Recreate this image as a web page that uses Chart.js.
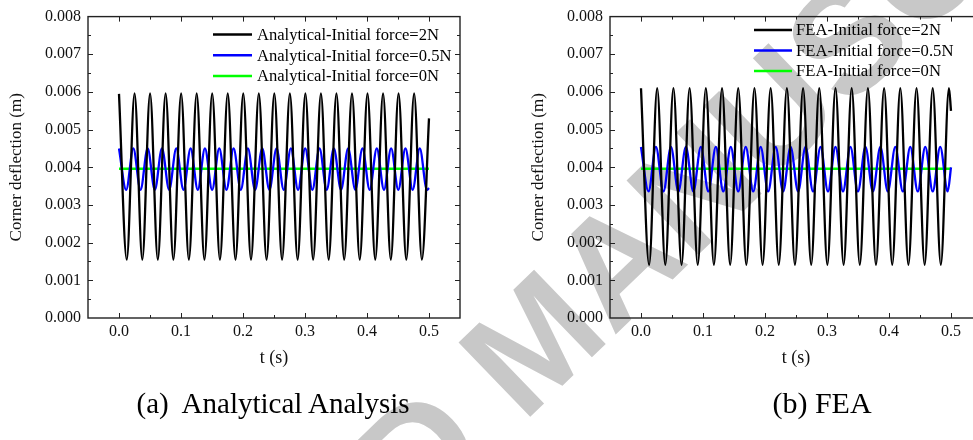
<!DOCTYPE html>
<html>
<head>
<meta charset="utf-8">
<script src="https://cdn.jsdelivr.net/npm/chart.js@4.4.0/dist/chart.umd.min.js"></script>
<style>
  html, body { margin: 0; padding: 0; background: #fff; }
  body { width: 973px; height: 440px; overflow: hidden; position: relative; }
  .box { position: absolute; top: 0; width: 480px; height: 400px; z-index: 1; }
  #wm { position: absolute; left: 530px; top: 342px; width: 0; height: 0; transform: rotate(-44deg); transform-origin: 0 0; z-index: 0; }
  #wm span { position: absolute; left: -6.19em; top: -0.49em; white-space: nowrap; font: bold 150px "Liberation Sans", Arial, sans-serif; line-height: 1; color: #c8c8c8; }
  .cap { position: absolute; top: 388px; font: 29px "Liberation Serif", "Times New Roman", serif; line-height: 30px; color: #000; text-align: center; white-space: pre; z-index: 2; }
</style>
</head>
<body>
<div id="wm"><span>ACCEPTED MANUSCRIPT</span></div>
<div class="box" style="left:0px"><canvas id="chartA"></canvas></div>
<div class="box" style="left:522px"><canvas id="chartB"></canvas></div>
<div class="cap" style="left:123px;width:300px">(a)  Analytical Analysis</div>
<div class="cap" style="left:722px;width:200px;font-size:30px">(b) FEA</div>
<script>
// ticks
const xTicks = [0, 0.1, 0.2, 0.3, 0.4, 0.5];
const yTicks = [0, 0.001, 0.002, 0.003, 0.004, 0.005, 0.006, 0.007, 0.008];

// Analytical, initial force 2N (peaks and troughs)
const aT2 = [0, 0.0125, 0.0251, 0.0376, 0.0501, 0.0626, 0.0752, 0.0877, 0.1002, 0.1127,
  0.1253, 0.1378, 0.1503, 0.1628, 0.1754, 0.1879, 0.2004, 0.2129, 0.2255, 0.2380,
  0.2505, 0.2630, 0.2756, 0.2881, 0.3006, 0.3131, 0.3257, 0.3382, 0.3507, 0.3632,
  0.3758, 0.3883, 0.4008, 0.4133, 0.4259, 0.4384, 0.4509, 0.4634, 0.4760, 0.4885, 0.5];
const aY2 = [0.00595, 0.00155, 0.00596, 0.00155, 0.00596, 0.00155, 0.00596, 0.00155, 0.00596, 0.00155,
  0.00596, 0.00155, 0.00596, 0.00155, 0.00596, 0.00155, 0.00596, 0.00155, 0.00596, 0.00155,
  0.00596, 0.00155, 0.00596, 0.00155, 0.00596, 0.00155, 0.00596, 0.00155, 0.00596, 0.00155,
  0.00596, 0.00155, 0.00596, 0.00155, 0.00596, 0.00155, 0.00596, 0.00155, 0.00596, 0.00155, 0.0053];

// Analytical, initial force 0.5N
const aT05 = [0, 0.0116, 0.0231, 0.0347, 0.0462, 0.0578, 0.0693, 0.0809, 0.0924, 0.1040,
  0.1155, 0.1271, 0.1386, 0.1502, 0.1617, 0.1733, 0.1848, 0.1964, 0.2079, 0.2195,
  0.2310, 0.2426, 0.2541, 0.2657, 0.2772, 0.2888, 0.3003, 0.3119, 0.3234, 0.3350,
  0.3465, 0.3581, 0.3696, 0.3812, 0.3927, 0.4043, 0.4158, 0.4274, 0.4389, 0.4505,
  0.4620, 0.4736, 0.4851, 0.4967, 0.5];
const aY05 = [0.00450, 0.00340, 0.00450, 0.00340, 0.00450, 0.00340, 0.00450, 0.00340, 0.00450, 0.00340,
  0.00450, 0.00340, 0.00450, 0.00340, 0.00450, 0.00340, 0.00450, 0.00340, 0.00450, 0.00340,
  0.00450, 0.00340, 0.00450, 0.00340, 0.00450, 0.00340, 0.00450, 0.00340, 0.00450, 0.00340,
  0.00450, 0.00340, 0.00450, 0.00340, 0.00450, 0.00340, 0.00450, 0.00340, 0.00450, 0.00340,
  0.00450, 0.00340, 0.00450, 0.00340, 0.00345];

// Analytical, initial force 0N
const aT0 = [0, 0.5];
const aY0 = [0.00396, 0.00396];

// FEA, initial force 2N
const fT2 = [0, 0.0131, 0.0261, 0.0392, 0.0523, 0.0654, 0.0784, 0.0915, 0.1046, 0.1176,
  0.1307, 0.1438, 0.1568, 0.1699, 0.1830, 0.1961, 0.2091, 0.2222, 0.2353, 0.2483,
  0.2614, 0.2745, 0.2875, 0.3006, 0.3137, 0.3268, 0.3398, 0.3529, 0.3660, 0.3790,
  0.3921, 0.4052, 0.4182, 0.4313, 0.4444, 0.4575, 0.4705, 0.4836, 0.4967, 0.5];
const fY2 = [0.00610, 0.00141, 0.00610, 0.00141, 0.00610, 0.00141, 0.00610, 0.00141, 0.00610, 0.00141,
  0.00610, 0.00141, 0.00610, 0.00141, 0.00610, 0.00141, 0.00610, 0.00141, 0.00610, 0.00141,
  0.00610, 0.00141, 0.00610, 0.00141, 0.00610, 0.00141, 0.00610, 0.00141, 0.00610, 0.00141,
  0.00610, 0.00141, 0.00610, 0.00141, 0.00610, 0.00141, 0.00610, 0.00141, 0.00610, 0.0055];

// FEA, initial force 0.5N
const fT05 = [0, 0.0121, 0.0241, 0.0362, 0.0483, 0.0603, 0.0724, 0.0844, 0.0965, 0.1086,
  0.1207, 0.1327, 0.1448, 0.1568, 0.1689, 0.1810, 0.1930, 0.2051, 0.2172, 0.2292,
  0.2413, 0.2534, 0.2654, 0.2775, 0.2896, 0.3016, 0.3137, 0.3258, 0.3378, 0.3499,
  0.3620, 0.3740, 0.3861, 0.3981, 0.4102, 0.4223, 0.4343, 0.4464, 0.4585, 0.4705,
  0.4826, 0.4947, 0.5];
const fY05 = [0.00454, 0.00336, 0.00454, 0.00336, 0.00454, 0.00336, 0.00454, 0.00336, 0.00454, 0.00336,
  0.00454, 0.00336, 0.00454, 0.00336, 0.00454, 0.00336, 0.00454, 0.00336, 0.00454, 0.00336,
  0.00454, 0.00336, 0.00454, 0.00336, 0.00454, 0.00336, 0.00454, 0.00336, 0.00454, 0.00336,
  0.00454, 0.00336, 0.00454, 0.00336, 0.00454, 0.00336, 0.00454, 0.00336, 0.00454, 0.00336,
  0.00454, 0.00336, 0.0040];

// FEA, initial force 0N
const fT0 = [0, 0.5];
const fY0 = [0.00396, 0.00396];

const COLORS = ['#000000', '#0000ff', '#00ff00'];
const SERIF = '"Liberation Serif", "Times New Roman", serif';

function pts(ts, ys) {
  return ts.map((t, i) => ({ x: t, y: ys[i] }));
}

function ds(label, ts, ys, color, width) {
  return {
    label: label,
    data: pts(ts, ys),
    borderColor: color,
    backgroundColor: color,
    borderWidth: width,
    pointRadius: 0,
    cubicInterpolationMode: 'monotone',
    fill: false
  };
}

// frame with inward ticks, like Origin, plus the legend inside the plot
const originFrame = {
  id: 'originFrame',
  afterDraw(chart, args, opts) {
    const ctx = chart.ctx;
    const a = chart.chartArea;
    const xs = chart.scales.x, ys = chart.scales.y;
    ctx.save();
    ctx.strokeStyle = '#222';
    ctx.lineWidth = 1.4;
    ctx.strokeRect(a.left, a.top, a.right - a.left, a.bottom - a.top);
    ctx.lineWidth = 1;
    ctx.beginPath();
    for (let i = -1; i <= 11; i++) {
      const v = i * 0.05;
      const px = Math.round(xs.getPixelForValue(v)) + 0.5;
      if (px <= a.left + 1 || px >= a.right - 1) continue;
      const len = i % 2 === 0 ? 5 : 3;
      ctx.moveTo(px, a.bottom); ctx.lineTo(px, a.bottom - len);
      ctx.moveTo(px, a.top); ctx.lineTo(px, a.top + len);
    }
    for (let i = 0; i <= 16; i++) {
      const v = i * 0.0005;
      const py = Math.round(ys.getPixelForValue(v)) + 0.5;
      if (py <= a.top + 1 || py >= a.bottom - 1) continue;
      const len = i % 2 === 0 ? 5 : 3;
      ctx.moveTo(a.left, py); ctx.lineTo(a.left + len, py);
      ctx.moveTo(a.right, py); ctx.lineTo(a.right - len, py);
    }
    ctx.stroke();

    // legend: font size chosen so the first label spans the width
    const lg = opts.legend;
    ctx.font = '16px ' + SERIF;
    const w16 = ctx.measureText(chart.data.datasets[0].label).width;
    const size = 16 * lg.textWidth / w16;
    ctx.font = size.toFixed(2) + 'px ' + SERIF;
    ctx.textBaseline = 'middle';
    ctx.textAlign = 'left';
    chart.data.datasets.forEach((d, i) => {
      const y = a.top + lg.y + i * lg.gap;
      ctx.strokeStyle = d.borderColor;
      ctx.lineWidth = 2.5;
      ctx.beginPath();
      ctx.moveTo(a.left + lg.x, y);
      ctx.lineTo(a.left + lg.x + lg.len, y);
      ctx.stroke();
      ctx.fillStyle = '#000';
      ctx.fillText(d.label, a.left + lg.x + lg.len + lg.pad, y + 1);
    });
    ctx.restore();
  }
};

function makeChart(id, sets, legend) {
  return new Chart(document.getElementById(id).getContext('2d'), {
    type: 'line',
    data: { datasets: sets },
    options: {
      responsive: true,
      maintainAspectRatio: false,
      animation: false,
      events: [],
      layout: { padding: { top: 16, right: 20, bottom: 31, left: 0 } },
      plugins: {
        legend: { display: false },
        tooltip: { enabled: false },
        originFrame: { legend: legend }
      },
      scales: {
        x: {
          type: 'linear',
          min: -0.05,
          max: 0.55,
          afterBuildTicks: s => { s.ticks = xTicks.map(v => ({ value: v })); },
          afterFit: s => { s.height = 51; },
          grid: { display: false, drawTicks: false },
          border: { display: false },
          ticks: {
            padding: 4,
            color: '#111',
            font: { family: SERIF, size: 16 },
            maxRotation: 0,
            callback: v => v.toFixed(1)
          },
          title: {
            display: true,
            text: 't (s)',
            color: '#111',
            font: { family: SERIF, size: 18 },
            padding: { top: 0, bottom: 0 }
          }
        },
        y: {
          type: 'linear',
          min: 0,
          max: 0.008,
          afterBuildTicks: s => { s.ticks = yTicks.map(v => ({ value: v })); },
          afterFit: s => { s.width = 88; },
          grid: { display: false, drawTicks: false },
          border: { display: false },
          ticks: {
            padding: 7,
            color: '#111',
            font: { family: SERIF, size: 16 },
            callback: v => v.toFixed(3)
          },
          title: {
            display: true,
            text: 'Corner deflection (m)',
            color: '#111',
            font: { family: SERIF, size: 17 },
            padding: { top: 6.5, bottom: 0 }
          }
        }
      }
    },
    plugins: [originFrame]
  });
}

makeChart('chartA', [
  ds('Analytical-Initial force=2N', aT2, aY2, COLORS[0], 2.3),
  ds('Analytical-Initial force=0.5N', aT05, aY05, COLORS[1], 2.3),
  ds('Analytical-Initial force=0N', aT0, aY0, COLORS[2], 2.6)
], { x: 125, y: 18, gap: 20.7, len: 39, pad: 5, textWidth: 182 });

makeChart('chartB', [
  ds('FEA-Initial force=2N', fT2, fY2, COLORS[0], 2.3),
  ds('FEA-Initial force=0.5N', fT05, fY05, COLORS[1], 2.3),
  ds('FEA-Initial force=0N', fT0, fY0, COLORS[2], 2.6)
], { x: 144, y: 13.3, gap: 20.5, len: 38, pad: 4, textWidth: 145 });
</script>
</body>
</html>
